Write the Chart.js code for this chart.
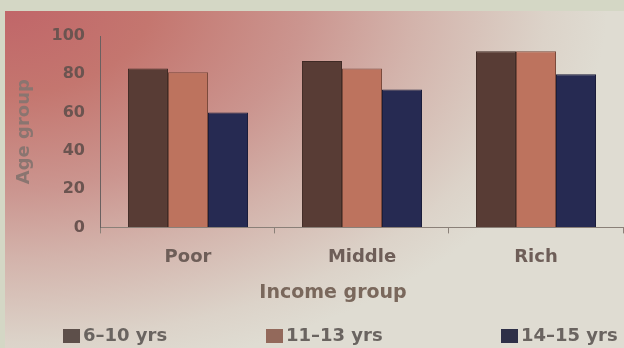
<!DOCTYPE html>
<html>
<head>
<meta charset="utf-8">
<script src="https://cdn.jsdelivr.net/npm/chart.js@4/dist/chart.umd.min.js"></script>
<style>
  html, body { margin: 0; padding: 0; background: #d4d7c5; }
  #wrap { width: 624px; height: 348px; }
</style>
</head>
<body>
<div id="wrap"><canvas id="chart"></canvas></div>
<script>
// Share of children by income group, split by age band
const incomeGroups = ['Poor', 'Middle', 'Rich'];
const ageBands = ['6–10 yrs', '11–13 yrs', '14–15 yrs'];
const age6to10 = [83, 87, 92];
const age11to13 = [81, 83, 92];
const age14to15 = [60, 72, 80];
const yTicks = [0, 20, 40, 60, 80, 100];

const FONT = "'DejaVu Sans', sans-serif";
const barColors = ['#583c35', '#bd735e', '#262a52'];
const barEdges = ['#3f2a25', '#7a4a3c', '#1a1c3a'];
const keyColors = ['#5d4f4a', '#93695b', '#2e3048'];

// pink wash behind the plot, legend and x title drawn on the canvas
const panelDecor = {
  id: 'panelDecor',
  beforeDraw(chart) {
    const { ctx, width, height } = chart;
    ctx.save();
    ctx.fillStyle = '#d4d7c5';
    ctx.fillRect(0, 0, width, height);
    ctx.beginPath();
    ctx.rect(5, 11, width - 5, height - 11);
    ctx.clip();
    ctx.scale(1.6, 1);
    const g = ctx.createRadialGradient(0, 0, 0, 0, 0, 380);
    g.addColorStop(0, '#c06468');
    g.addColorStop(0.25, '#c4766f');
    g.addColorStop(0.5, '#cb958f');
    g.addColorStop(0.68, '#d3b3ab');
    g.addColorStop(0.9, '#dcd3c9');
    g.addColorStop(1, '#dfdcd2');
    ctx.fillStyle = g;
    ctx.fillRect(0, 0, width, height);
    ctx.restore();
  },
  afterDraw(chart) {
    const { ctx } = chart;
    ctx.save();
    ctx.textBaseline = 'middle';
    ctx.textAlign = 'center';
    ctx.fillStyle = '#7a685c';
    ctx.font = 'bold 19px ' + FONT;
    ctx.fillText('Income group', 333, 293);

    const keyX = [63, 266, 501];
    ctx.font = 'bold 18px ' + FONT;
    ctx.textAlign = 'left';
    chart.data.datasets.forEach((ds, i) => {
      ctx.fillStyle = keyColors[i];
      ctx.fillRect(keyX[i], 329, 17, 14);
      ctx.fillStyle = '#6a6460';
      ctx.fillText(ds.label, keyX[i] + 20, 336);
    });
    ctx.restore();
  }
};

const series = [age6to10, age11to13, age14to15];

new Chart(document.getElementById('chart'), {
  type: 'bar',
  data: {
    labels: incomeGroups,
    datasets: series.map((data, i) => ({
      label: ageBands[i],
      data,
      backgroundColor: barColors[i],
      borderColor: barEdges[i],
      borderWidth: 1,
      categoryPercentage: 0.69,
      barPercentage: 1
    }))
  },
  options: {
    responsive: true,
    maintainAspectRatio: false,
    animation: false,
    devicePixelRatio: 1,
    layout: { padding: { left: 3, right: 1, top: 36, bottom: 67 } },
    plugins: {
      legend: { display: false },
      tooltip: { enabled: false }
    },
    scales: {
      x: {
        border: { display: true, color: '#8a8078', width: 1 },
        grid: {
          offset: true,
          drawOnChartArea: false,
          drawTicks: true,
          tickLength: 6,
          color: '#8a8078'
        },
        ticks: {
          color: '#6e5e58',
          padding: 13,
          font: { family: FONT, size: 18, weight: 'bold' }
        }
      },
      y: {
        min: 0,
        max: 100,
        afterBuildTicks: (axis) => { axis.ticks = yTicks.map(v => ({ value: v })); },
        border: { display: true, color: '#6a6060', width: 1 },
        grid: { drawOnChartArea: false, drawTicks: false },
        ticks: {
          color: '#6b5450',
          padding: 16,
          font: { family: FONT, size: 16, weight: 'bold' }
        },
        title: {
          display: true,
          text: 'Age group',
          color: '#8a7570',
          padding: { top: 11, bottom: 0 },
          font: { family: FONT, size: 18, weight: 'bold' }
        }
      }
    }
  },
  plugins: [panelDecor]
});
</script>
</body>
</html>
